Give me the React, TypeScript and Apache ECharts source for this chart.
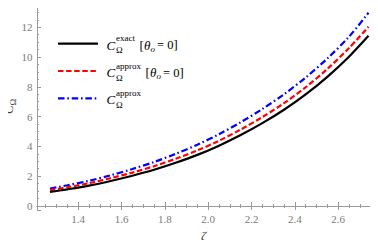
import { useEffect, useRef } from 'react';
import * as echarts from 'echarts';

const zeta = [1.27, 1.35, 1.45, 1.55, 1.65, 1.75, 1.85, 1.95, 2.05, 2.15, 2.25, 2.35, 2.45, 2.55, 2.65, 2.74];
const exactTheta0 = [0.94, 1.12, 1.37, 1.68, 2.03, 2.43, 2.9, 3.43, 4.05, 4.76, 5.56, 6.46, 7.49, 8.67, 10.02, 11.42];
const approxTheta0 = [1.06, 1.26, 1.53, 1.87, 2.24, 2.67, 3.17, 3.73, 4.38, 5.13, 5.97, 6.9, 7.97, 9.2, 10.6, 12.03];
const approxAll = [1.17, 1.39, 1.69, 2.06, 2.48, 2.95, 3.5, 4.11, 4.82, 5.62, 6.51, 7.5, 8.62, 9.9, 11.36, 12.97];

const legendSups = ['exact', 'approx', 'approx'];
const legendHasTheta = [true, true, false];

const serif = "'Liberation Serif', serif";
const frame = '#9a9a9a';
const labelColor = '#7a7a7a';

function txt(x: number, y: number, text: string, size: number, italic = false, color = '#000') {
  return {
    type: 'text',
    x,
    y,
    silent: true,
    style: {
      text,
      fontStyle: italic ? 'italic' : 'normal',
      fontSize: size,
      fontFamily: serif,
      fill: color,
      align: 'left',
      verticalAlign: 'middle',
      textAlign: 'left',
      textVerticalAlign: 'middle',
    },
  };
}

export default function App() {
  const ref = useRef<HTMLDivElement>(null);
  useEffect(() => {
    if (!ref.current) return;
    const chart = echarts.init(ref.current, null, { renderer: 'svg' });
    const colors = ['#000000', '#ff0000', '#0000ff'];
    const dashes: any[] = ['solid', [5.5, 2.6], [6.5, 2.8, 1.6, 2.8]];
    const seriesData = [exactTheta0, approxTheta0, approxAll];
    const names = ['exact θo=0', 'approx θo=0', 'approx'];

    const graphics: any[] = [];
    for (let i = 0; i < 3; i++) {
      const yc = 43.7 + 27.3 * i;
      graphics.push({
        type: 'line',
        silent: true,
        shape: { x1: 58, y1: yc, x2: 98, y2: yc },
        style: { stroke: colors[i], lineWidth: 2.2, lineDash: i === 0 ? null : dashes[i] },
      });
      graphics.push(txt(106.5, yc + 1.5, 'C', 13, true));
      graphics.push(txt(116, yc - 5.5, legendSups[i], 9));
      graphics.push(txt(116, yc + 6.5, 'Ω', 9));
      if (legendHasTheta[i]) {
        const bx = i === 0 ? 139.5 : 145.5;
        graphics.push(txt(bx, yc + 1.5, '[', 13));
        graphics.push(txt(bx + 4.5, yc + 1.5, 'θ', 13, true));
        graphics.push(txt(bx + 11, yc + 5, 'o', 9, true));
        graphics.push(txt(bx + 17.5, yc + 1.5, '= 0]', 12.5));
      }
    }
    graphics.push({
      type: 'group',
      x: 8,
      y: 114,
      rotation: Math.PI / 2,
      children: [txt(0, 0, 'C', 13, true, '#444'), txt(8.5, 4.5, 'Ω', 9, false, '#444')],
    });
    graphics.push(txt(201, 235, 'ζ', 13, true, '#444'));

    const axisCommon = {
      axisLine: { show: true, lineStyle: { color: frame, width: 1 } },
      axisTick: { show: true, inside: true, length: 4, lineStyle: { color: frame } },
      minorTick: { show: true, splitNumber: 4, length: 2, lineStyle: { color: frame } },
      splitLine: { show: false },
      minorSplitLine: { show: false },
    };

    chart.setOption({
      animation: false,
      grid: { left: 37, right: 3, top: 1, bottom: 38, outerBoundsMode: 'none' },
      xAxis: [
        {
          type: 'value',
          min: 1.21,
          max: 2.77,
          splitNumber: 8,
          position: 'bottom',
          ...axisCommon,
          axisLabel: {
            show: true,
            margin: 3,
            showMinLabel: false,
            showMaxLabel: false,
            color: labelColor,
            fontFamily: serif,
            fontSize: 11,
            formatter: (v: number) => v.toFixed(1),
          },
        },
        {
          type: 'value',
          min: 1.21,
          max: 2.77,
          splitNumber: 8,
          position: 'top',
          ...axisCommon,
          axisLabel: { show: false },
        },
      ],
      yAxis: [
        {
          type: 'value',
          min: -0.27,
          max: 13.76,
          splitNumber: 7,
          position: 'left',
          ...axisCommon,
          axisLabel: {
            show: true,
            margin: 4.5,
            showMinLabel: false,
            showMaxLabel: false,
            color: labelColor,
            fontFamily: serif,
            fontSize: 11,
          },
        },
        {
          type: 'value',
          min: -0.27,
          max: 13.76,
          splitNumber: 7,
          position: 'right',
          ...axisCommon,
          axisLabel: { show: false },
        },
      ],
      graphic: graphics,
      series: seriesData.map((d, i) => ({
        type: 'line',
        name: names[i],
        xAxisIndex: 0,
        yAxisIndex: 0,
        data: zeta.map((z, k) => [z, d[k]]),
        smooth: 0.3,
        symbol: 'none',
        lineStyle: { color: colors[i], width: 2.2, type: dashes[i] },
        z: 3 - i,
      })),
    });
    return () => chart.dispose();
  }, []);
  return <div ref={ref} style={{ width: 378, height: 248, margin: -8 }} />;
}
